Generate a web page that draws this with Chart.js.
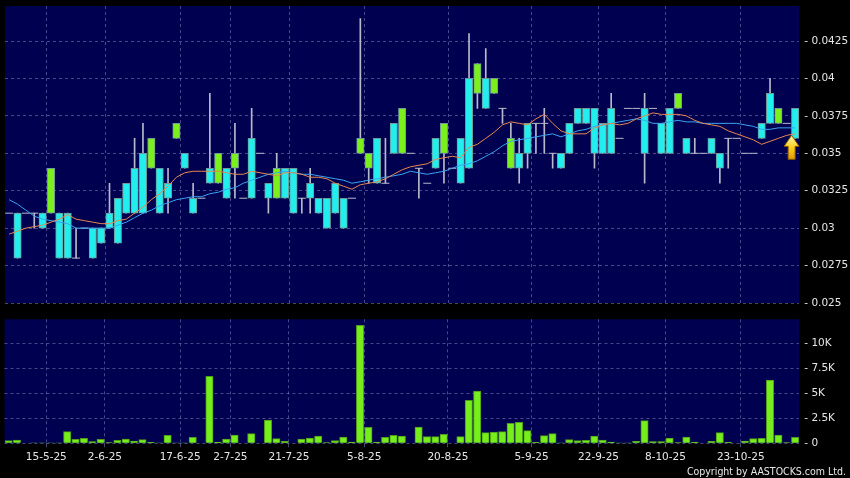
<!DOCTYPE html>
<html>
<head>
<meta charset="utf-8">
<script src="https://cdn.jsdelivr.net/npm/chart.js@4.4.1/dist/chart.umd.min.js"></script>
<style>
  html, body { margin: 0; padding: 0; background: #000; }
  #wrap { position: relative; width: 850px; height: 478px; background: #000; overflow: hidden; }
  #priceChart { position: absolute; left: 0; top: 0; }
  #volChart { position: absolute; left: 0; top: 310px; }
  #copy { position: absolute; right: 4px; top: 465px; color: #e8e8e8; font: 10.5px "DejaVu Sans Condensed", "DejaVu Sans", sans-serif; }
</style>
</head>
<body>
<div id="wrap">
  <canvas id="priceChart" width="850" height="310"></canvas>
  <canvas id="volChart" width="850" height="168"></canvas>
  <div id="copy">Copyright by AASTOCKS.com Ltd.</div>
</div>
<script>
// one entry per trading slot
const openPx  = [.031,.028,.031,.031,.030,.034,.028,.028,.028,.030, .028,.029,.030,.029,.031,.031,.031,.036,.031,.032,
                 .037,.034,.031,.032,.033,.035,.032,.035,.032,.032, .035,.032,.034,.032,.031,.032,.032,.031,.030,.031,
                 .030,.032,.036,.035,.033,.033,.035,.038,.035,.034, .033,.034,.037,.034,.033,.034,.041,.038,.040,.038,
                 .036,.034,.035,.037,.037,.035,.034,.035,.037,.037, .035,.035,.035,.036,.038,.038,.035,.038,.035,.035,
                 .039,.035,.035,.035,.035,.034,.036,.036,.035,.035, .036,.037,.038,.037,.036];
const highPx  = [.031,.031,.031,.031,.031,.034,.031,.031,.030,.030, .030,.030,.033,.032,.033,.036,.037,.036,.034,.034,
                 .037,.035,.033,.032,.039,.035,.034,.037,.032,.038, .035,.033,.035,.034,.034,.032,.034,.032,.032,.033,
                 .032,.032,.044,.035,.036,.036,.037,.038,.035,.034, .033,.036,.037,.034,.036,.043,.041,.042,.040,.038,
                 .037,.036,.037,.037,.038,.035,.035,.037,.038,.038, .038,.037,.039,.036,.038,.038,.039,.038,.037,.038,
                 .039,.036,.036,.035,.036,.035,.036,.036,.035,.035, .037,.040,.038,.037,.038];
const lowPx   = [.031,.028,.031,.030,.030,.031,.028,.028,.028,.030, .028,.029,.030,.029,.031,.031,.031,.034,.031,.031,
                 .036,.034,.031,.032,.033,.033,.032,.032,.032,.032, .035,.031,.032,.032,.031,.031,.031,.031,.030,.031,
                 .030,.032,.035,.033,.033,.033,.035,.035,.035,.032, .033,.034,.033,.034,.033,.034,.038,.038,.039,.037,
                 .034,.033,.034,.035,.035,.034,.034,.035,.037,.037, .034,.035,.035,.036,.038,.038,.033,.038,.035,.035,
                 .038,.035,.035,.035,.035,.033,.034,.036,.035,.035, .036,.037,.037,.037,.036];
const closePx = [.031,.031,.031,.031,.031,.031,.031,.031,.028,.030, .030,.030,.031,.032,.033,.034,.035,.034,.034,.033,
                 .036,.035,.032,.032,.034,.033,.034,.034,.032,.036, .035,.033,.032,.034,.034,.032,.033,.032,.032,.033,
                 .032,.032,.035,.034,.036,.033,.037,.035,.035,.034, .033,.036,.035,.034,.036,.040,.039,.040,.039,.038,
                 .034,.035,.037,.037,.037,.035,.035,.037,.038,.038, .038,.037,.038,.036,.038,.038,.038,.038,.037,.038,
                 .038,.036,.035,.035,.036,.035,.036,.036,.035,.035, .037,.039,.037,.037,.038];
const volume  = [270,330,0,30,40,30,20,1160,400,500, 170,400,70,300,430,230,370,100,20,800,
                 10,10,600,0,6700,130,430,830,0,970, 0,2330,470,200,50,430,530,730,70,270,
                 630,130,11800,1600,130,600,800,730,0,1630, 670,670,900,0,670,4300,5230,1070,1130,1170,
                 2000,2100,1270,100,770,970,10,370,270,300, 730,330,130,10,10,200,2270,170,170,530,
                 70,630,130,0,200,1070,100,0,230,470, 500,6330,830,70,600];
const maFast  = [.0296,.0298,.0300,.0301,.0302,.0304,.0306,.0309,.0306,.0305, .0304,.0303,.0303,.0305,.0306,.0310,.0314,.0319,.0323,.0328,
                 .0334,.0337,.0338,.0338,.0338,.0338,.0337,.0336,.0336,.0338, .0337,.0336,.0335,.0337,.0337,.0336,.0334,.0334,.0333,.0330,
                 .0328,.0326,.0329,.0330,.0331,.0333,.0336,.0339,.0341,.0342, .0343,.0346,.0347,.0348,.0347,.0354,.0356,.0360,.0364,.0369,
                 .0371,.0370,.0369,.0373,.0376,.0370,.0365,.0363,.0363,.0363, .0367,.0369,.0370,.0369,.0370,.0373,.0375,.0377,.0376,.0376,
                 .0376,.0375,.0372,.0370,.0369,.0368,.0365,.0363,.0361,.0359, .0356,.0358,.0360,.0362,.0363];
const maSlow  = [.0319,.0316,.0312,.0308,.0306,.0305,.0304,.0303,.0300,.0300, .0300,.0300,.0300,.0302,.0304,.0307,.0310,.0312,.0315,.0317,
                 .0319,.0320,.0321,.0321,.0323,.0324,.0326,.0327,.0330,.0332, .0334,.0336,.0337,.0338,.0337,.0336,.0336,.0335,.0334,.0333,
                 .0332,.0330,.0331,.0332,.0333,.0334,.0335,.0336,.0338,.0337, .0336,.0337,.0338,.0340,.0342,.0343,.0345,.0348,.0351,.0355,
                 .0358,.0359,.0360,.0361,.0362,.0363,.0361,.0363,.0365,.0366, .0368,.0369,.0370,.0371,.0372,.0373,.0372,.0370,.0370,.0371,
                 .0372,.0371,.0371,.0370,.0370,.0370,.0370,.0370,.0369,.0368, .0366,.0366,.0367,.0367,.0367];

const tickSlots  = [4, 11, 20, 26, 33, 42, 52, 62, 70, 78, 87];
const tickLabels = ['15-5-25', '2-6-25', '17-6-25', '2-7-25', '21-7-25', '5-8-25', '20-8-25', '5-9-25', '22-9-25', '8-10-25', '23-10-25'];
const priceTicks = [0.025, 0.0275, 0.03, 0.0325, 0.035, 0.0375, 0.04, 0.0425];
const volTicks   = [0, 2500, 5000, 7500, 10000];

const NAVY = '#000050';
const GRID = 'rgba(130,130,190,0.55)';
const TEXT = '#e6e6e6';
const UP = '#22eeee';
const DOWN = '#7cf01c';
const FONT = { family: 'DejaVu Sans', size: 10.5 };

const slots = openPx.map((_, i) => String(i));

const plotBg = {
    id: 'plotBg',
    beforeDraw(chart) {
        const a = chart.chartArea;
        const c = chart.ctx;
        c.save();
        c.fillStyle = NAVY;
        c.fillRect(a.left, a.top, a.right - a.left, a.bottom - a.top);
        c.restore();
    }
};

const lastArrow = {
    id: 'lastArrow',
    afterDatasetsDraw(chart) {
        const last = openPx.length - 1;
        const x = chart.scales.x.getPixelForValue(last) - 3.5;
        const top = chart.scales.y.getPixelForValue(lowPx[last]) - 3;
        const c = chart.ctx;
        c.save();
        const g = c.createLinearGradient(0, top, 0, top + 24);
        g.addColorStop(0, '#fff6b0');
        g.addColorStop(0.5, '#ffd21e');
        g.addColorStop(1, '#e09a00');
        c.beginPath();
        c.moveTo(x, top);
        c.lineTo(x + 7.5, top + 11);
        c.lineTo(x + 3.5, top + 11);
        c.lineTo(x + 3.5, top + 24);
        c.lineTo(x - 3.5, top + 24);
        c.lineTo(x - 3.5, top + 11);
        c.lineTo(x - 7.5, top + 11);
        c.closePath();
        c.fillStyle = g;
        c.fill();
        c.strokeStyle = '#8a5c00';
        c.lineWidth = 1;
        c.stroke();
        c.restore();
    }
};

function dateGridColor(ctx) {
    return tickSlots.includes(ctx.index - 1) ? GRID : 'rgba(0,0,0,0)';
}

function fixAxisWidth(scale) {
    scale.width = 50.7;
    scale.paddingTop = 0;
    scale.paddingBottom = 0;
}

function initializePriceChart() {
    const bodies = openPx.map((o, i) => o !== closePx[i] ? [o, closePx[i]] : null);
    const wicks = highPx.map((h, i) => h > lowPx[i] ? [lowPx[i], h] : null);
    const flats = openPx.map((o, i) => o === closePx[i] ? o : null);
    const bodyColors = openPx.map((o, i) => closePx[i] >= o ? UP : DOWN);

    new Chart(document.getElementById('priceChart'), {
        type: 'bar',
        data: {
            labels: slots,
            datasets: [
                {
                    type: 'line', data: maFast, borderColor: '#e8874e', borderWidth: 1,
                    pointRadius: 0, tension: 0, order: 1
                },
                {
                    type: 'line', data: maSlow, borderColor: '#3aa4f0', borderWidth: 1,
                    pointRadius: 0, tension: 0, order: 2
                },
                {
                    type: 'line', data: flats, showLine: false, pointStyle: 'line',
                    pointRadius: 4, pointBorderColor: '#b8b8cc', pointBorderWidth: 1, order: 3
                },
                {
                    data: bodies, backgroundColor: bodyColors, borderColor: '#6f9a9a', borderWidth: 1,
                    borderSkipped: false, barThickness: 7.4, grouped: false, order: 4
                },
                {
                    data: wicks, backgroundColor: '#b8b8cc', borderWidth: 0,
                    barThickness: 1, grouped: false, order: 5
                }
            ]
        },
        options: {
            responsive: false,
            animation: false,
            layout: { padding: { left: 4.45, right: 0, top: 6, bottom: 7 } },
            plugins: { legend: { display: false }, tooltip: { enabled: false } },
            scales: {
                x: {
                    offset: true,
                    grid: { offset: true, color: dateGridColor, drawTicks: false },
                    border: { display: false, dash: [3, 3] },
                    ticks: { display: false, autoSkip: false },
                    afterFit(s) { s.height = 0; s.paddingLeft = 0; s.paddingRight = 0; }
                },
                y: {
                    position: 'right',
                    min: 0.025,
                    max: 0.04484,
                    afterBuildTicks(s) { s.ticks = priceTicks.map(v => ({ value: v })); },
                    grid: { color: GRID, drawTicks: false },
                    border: { display: false, dash: [3, 3] },
                    ticks: {
                        color: TEXT, font: FONT, padding: 5,
                        callback: v => '- ' + parseFloat(v.toFixed(4))
                    },
                    afterFit: fixAxisWidth
                }
            }
        },
        plugins: [plotBg, lastArrow]
    });
}

function initializeVolumeChart() {
    new Chart(document.getElementById('volChart'), {
        type: 'bar',
        data: {
            labels: slots,
            datasets: [{
                data: volume.map(v => v > 0 ? v : null),
                backgroundColor: '#76ee1c',
                borderColor: '#4f9a1a',
                borderWidth: 1,
                borderSkipped: 'start',
                barThickness: 7.4
            }]
        },
        options: {
            responsive: false,
            animation: false,
            layout: { padding: { left: 4.45, right: 0, top: 9.3, bottom: 0 } },
            plugins: { legend: { display: false }, tooltip: { enabled: false } },
            scales: {
                x: {
                    offset: true,
                    grid: { offset: true, color: dateGridColor, drawTicks: true, tickLength: 4, tickColor: dateGridColor },
                    border: { display: false, dash: [3, 3] },
                    ticks: {
                        color: TEXT, font: FONT, padding: 4, autoSkip: false,
                        maxRotation: 0, minRotation: 0, labelOffset: 4.2,
                        callback: (v, i) => {
                            const k = tickSlots.indexOf(i);
                            return k >= 0 ? tickLabels[k] : '';
                        }
                    },
                    afterFit(s) { s.height = 34.7; s.paddingLeft = 0; s.paddingRight = 0; }
                },
                y: {
                    position: 'right',
                    min: 0,
                    max: 12400,
                    afterBuildTicks(s) { s.ticks = volTicks.map(v => ({ value: v })); },
                    grid: { color: GRID, drawTicks: false },
                    border: { display: false, dash: [3, 3] },
                    ticks: {
                        color: TEXT, font: FONT, padding: 5,
                        callback: v => '- ' + (v === 0 ? '0' : (v / 1000) + 'K')
                    },
                    afterFit: fixAxisWidth
                }
            }
        },
        plugins: [plotBg]
    });
}

initializePriceChart();
initializeVolumeChart();
</script>
</body>
</html>
